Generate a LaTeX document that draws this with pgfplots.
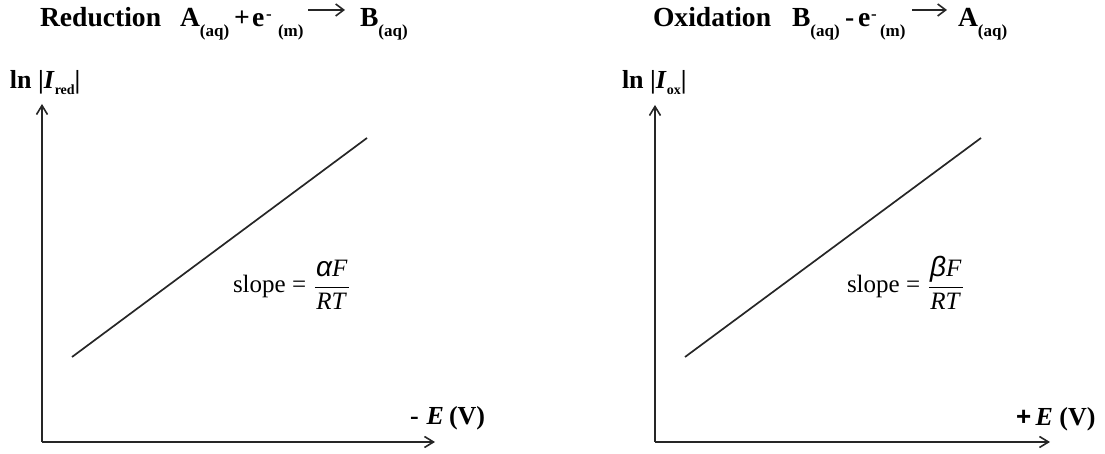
\documentclass[border=0pt]{standalone}
\usepackage{fontspec}
\setmainfont{Liberation Serif}
\newfontfamily\greekfont{Liberation Sans}
\newfontfamily\plusfont{Liberation Sans}
\usepackage{amsmath}
\usepackage{pgfplots}
\pgfplotsset{compat=1.18}
\usetikzlibrary{arrows.meta}

% subscripts of the species, e.g. (aq), (m)
\newcommand\sub[1]{\raisebox{-5pt}{\fontsize{8.5}{8.5}\selectfont\bfseries #1}}
\newcommand\titlefont{\fontsize{13.8}{14}\selectfont\bfseries}
\newcommand\axfont{\fontsize{13}{13}\selectfont\bfseries}
\newcommand\labfont{\fontsize{12.5}{13}\selectfont}

\pgfplotsset{
  tafel/.style={
    x=0.5pt, y=0.5pt,
    anchor=south west,
    axis lines=left,
    axis line style={line width=0.95pt, black!85, -{Straight Barb[length=4.5pt,width=5.5pt,line width=0.8pt]}},
    xtick=\empty, ytick=\empty,
    xmin=0, ymin=0,
    clip=false,
  },
}

\begin{document}
\begin{tikzpicture}[x=0.5pt, y=0.5pt,
  lbl/.style={inner sep=0pt, outer sep=0pt, anchor=base west}]
\path[use as bounding box] (0,0) rectangle (1105,454);

% ---------- reduction ----------
\begin{axis}[tafel, at={(42,12)}, xmax=393, ymax=338]
  \addplot[black!85, line width=0.85pt] coordinates {(30,85) (325,304)};
\end{axis}

% ---------- oxidation ----------
\begin{axis}[tafel, at={(655,12)}, xmax=395, ymax=337]
  \addplot[black!85, line width=0.85pt] coordinates {(30,85) (326,304)};
\end{axis}

% titles
\node[lbl, font=\titlefont] at (40,427) {Reduction};
\node[lbl, font=\titlefont] at (180,427) {A\sub{(aq)}};
\node[lbl, font=\titlefont] at (234,427) {+};
\node[lbl, font=\titlefont] at (252,427) {e};
\node[lbl, font=\titlefont] at (266,434) {\fontsize{8.5}{8.5}\selectfont -};
\node[lbl, font=\titlefont] at (278,427) {\sub{(m)}};
\draw[line width=0.85pt, black!85, -{Straight Barb[length=4pt,width=6pt,line width=0.8pt]}] (308,444) -- (345,444);
\node[lbl, font=\titlefont] at (360,427) {B\sub{(aq)}};

\node[lbl, font=\titlefont] at (653,427) {Oxidation};
\node[lbl, font=\titlefont] at (792,427) {B\sub{(aq)}};
\node[lbl, font=\titlefont] at (845,427) {-};
\node[lbl, font=\titlefont] at (858,427) {e};
\node[lbl, font=\titlefont] at (871,434) {\fontsize{8.5}{8.5}\selectfont -};
\node[lbl, font=\titlefont] at (880,427) {\sub{(m)}};
\draw[line width=0.85pt, black!85, -{Straight Barb[length=4pt,width=6pt,line width=0.8pt]}] (912,444) -- (947,444);
\node[lbl, font=\titlefont] at (958,427) {A\sub{(aq)}};

% y labels
\node[lbl, font=\axfont] at (10,365) {ln~|\textit{I}\raisebox{-3pt}{\fontsize{7}{7}\selectfont red}|};
\node[lbl, font=\axfont] at (622,365) {ln~|\textit{I}\raisebox{-3pt}{\fontsize{7}{7}\selectfont ox}|};

% x labels
\node[lbl, font=\axfont] at (410,29) {-\hspace{4pt}\textit{E}\hspace{2.5pt}(V)};
\node[lbl, font=\axfont] at (1016,28) {{\plusfont +}\,\textit{E}~(V)};

% slopes
\node[lbl, font=\labfont] at (233,161) {slope = $\dfrac{\makebox[17pt]{\text{{\greekfont\itshape\fontsize{14}{14}\selectfont α}\textit{F}}}}{\text{\textit{RT}}}$};
\node[lbl, font=\labfont] at (847,161) {slope = $\dfrac{\makebox[17pt]{\text{{\greekfont\itshape\fontsize{14}{14}\selectfont β}\textit{F}}}}{\text{\textit{RT}}}$};
\end{tikzpicture}
\end{document}
